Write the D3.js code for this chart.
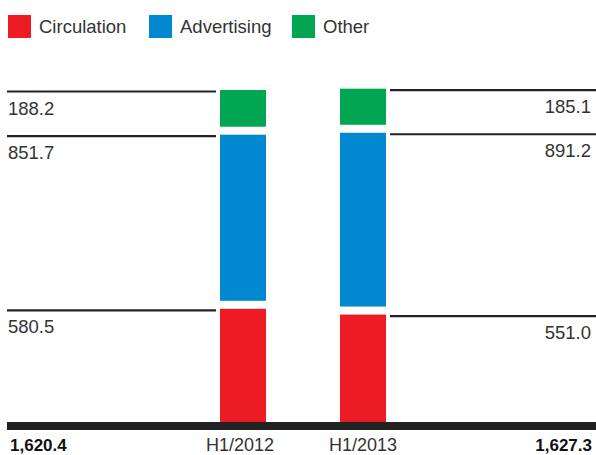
<!DOCTYPE html>
<html>
<head>
<meta charset="utf-8">
<script src="https://cdn.jsdelivr.net/npm/d3@7"></script>
<style>
  html, body { margin: 0; padding: 0; background: #fff; }
  svg { display: block; }
  text { font-family: "Liberation Sans", Arial, Helvetica, sans-serif; fill: #333; }
</style>
</head>
<body>
<svg id="chart" width="596" height="455"></svg>
<script>
// Revenue split by half-year period
const periods = ["H1/2012", "H1/2013"];
const seriesNames = ["Circulation", "Advertising", "Other"];
const circulation = [580.5, 551.0];
const advertising = [851.7, 891.2];
const other = [188.2, 185.1];
const totals = ["1,620.4", "1,627.3"];
const colors = ["#ED1C24", "#0088D1", "#00A651"];

const svg = d3.select("#chart");
const W = 596;
const baseY = 422;
const gap = 8;

const x = d3.scaleBand().domain(periods).range([220, 386]).paddingInner(74 / 120).paddingOuter(0);
const y = d3.scaleLinear().domain([0, 1700]).range([baseY, 90.5]);
const color = d3.scaleOrdinal().domain(seriesNames).range(colors);

// Build stacked rows from the series arrays
const rows = periods.map((p, i) => ({ period: p, Circulation: circulation[i], Advertising: advertising[i], Other: other[i] }));
const stacked = d3.stack().keys(seriesNames)(rows);

// Segments: each stack level is lifted by a white gap above the one below
const segs = [];
stacked.forEach((layer, li) => {
  layer.forEach((d, pi) => {
    const y0 = y(d[0]) - li * gap;
    const y1 = y(d[1]) - li * gap;
    segs.push({ key: layer.key, li, pi, period: periods[pi], value: d[1] - d[0], top: y1, bottom: y0 });
  });
});

svg.append("g").selectAll("rect").data(segs).join("rect")
  .attr("x", d => x(d.period))
  .attr("width", x.bandwidth())
  .attr("y", d => d.top)
  .attr("height", d => d.bottom - d.top)
  .attr("fill", d => color(d.key));

// Leader lines and value labels: first period on the left, second on the right
const fmt = d3.format(".1f");
const leaders = svg.append("g");
segs.forEach(d => {
  const ly = d.top + 1.5;
  const left = d.pi === 0;
  leaders.append("line")
    .attr("x1", left ? 7 : x(d.period) + x.bandwidth() + 4)
    .attr("x2", left ? x(d.period) - 4 : W)
    .attr("y1", ly).attr("y2", ly)
    .attr("stroke", "#222").attr("stroke-width", 2.2);
  leaders.append("text")
    .attr("x", left ? 8 : 591)
    .attr("y", ly + 23)
    .attr("text-anchor", left ? "start" : "end")
    .attr("font-size", 18.5)
    .text(fmt(d.value));
});

// Baseline
svg.append("rect").attr("x", 7).attr("y", baseY).attr("width", W - 7).attr("height", 8).attr("fill", "#222");

// Period labels
svg.append("g").selectAll("text").data(periods).join("text")
  .attr("x", (d, i) => x(d) + x.bandwidth() / 2 - (i === 0 ? 3 : 0))
  .attr("y", 451)
  .attr("text-anchor", "middle")
  .attr("font-size", 18)
  .text(d => d);

// Totals
svg.append("text").attr("x", 10).attr("y", 451).attr("font-size", 17).attr("font-weight", "bold").style("fill", "#111").text(totals[0]);
svg.append("text").attr("x", 592).attr("y", 451).attr("text-anchor", "end").attr("font-size", 17).attr("font-weight", "bold").style("fill", "#111").text(totals[1]);

// Legend
const legendX = [8, 149, 292];
const legend = svg.append("g").selectAll("g").data(seriesNames).join("g")
  .attr("transform", (d, i) => `translate(${legendX[i]},15)`);
legend.append("rect").attr("width", 23).attr("height", 23).attr("fill", d => color(d));
legend.append("text").attr("x", 31).attr("y", 17.5).attr("font-size", 18.5).text(d => d);
</script>
</body>
</html>
